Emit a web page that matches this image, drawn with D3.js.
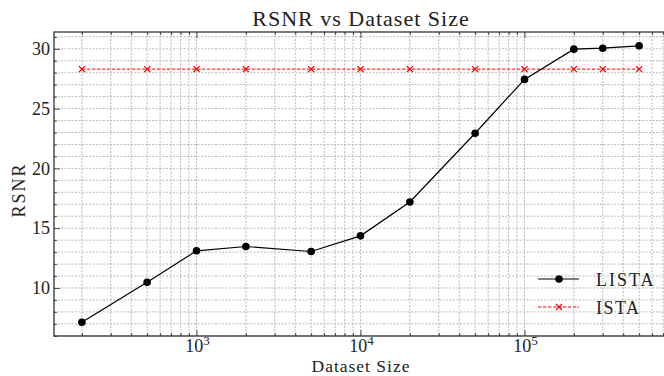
<!DOCTYPE html>
<html>
<head>
<meta charset="utf-8">
<script src="https://cdn.jsdelivr.net/npm/d3@7"></script>
<style>
  body { margin: 0; background: #fff; }
  svg text { font-family: "Liberation Serif", "DejaVu Serif", serif; fill: #222; }
</style>
</head>
<body>
<div id="chart"></div>
<script>
// Data
var sizes = [200, 500, 1000, 2000, 5000, 10000, 20000, 50000, 100000, 200000, 300000, 500000];
var lista = [7.14, 10.47, 13.11, 13.47, 13.05, 14.36, 17.19, 22.94, 27.44, 29.97, 30.05, 30.25];
var ista = [28.3, 28.3, 28.3, 28.3, 28.3, 28.3, 28.3, 28.3, 28.3, 28.3, 28.3, 28.3];
var yTicks = [10, 15, 20, 25, 30];
var xTicks = [1e3, 1e4, 1e5];

var svgWidth = 664;
var svgHeight = 376;

var margin = { top: 32, right: -3, bottom: 40, left: 54 };
var width = svgWidth - margin.left - margin.right;
var height = svgHeight - margin.top - margin.bottom;

var svg = d3.select("#chart")
  .append("svg")
  .attr("width", svgWidth)
  .attr("height", svgHeight);

var chartGroup = svg.append("g")
  .attr("transform", `translate(${margin.left}, ${margin.top})`);

// matplotlib-style 5% margins
var lx = d3.extent(sizes, d => Math.log10(d));
var px = (lx[1] - lx[0]) * 0.05;
var xScale = d3.scaleLog()
  .domain([Math.pow(10, lx[0] - px), Math.pow(10, lx[1] + px)])
  .range([0, width]);

var ly = d3.extent(lista.concat(ista));
var py = (ly[1] - ly[0]) * 0.05;
var yScale = d3.scaleLinear()
  .domain([ly[0] - py, ly[1] + py])
  .range([height, 0]);

// minor ticks
var xMinor = [];
for (var e = 2; e <= 5; e++) {
  for (var m = 1; m <= 9; m++) {
    var v = m * Math.pow(10, e);
    if (v >= xScale.domain()[0] && v <= xScale.domain()[1]) xMinor.push(v);
  }
}
var yMinor = d3.range(Math.ceil(yScale.domain()[0]), Math.floor(yScale.domain()[1]) + 1);

// grid
var grid = chartGroup.append("g");
grid.selectAll(".gx")
  .data(xMinor)
  .enter()
  .append("line")
  .attr("x1", d => xScale(d))
  .attr("x2", d => xScale(d))
  .attr("y1", 0)
  .attr("y2", height)
  .attr("stroke", "#a8a8a8")
  .attr("stroke-width", 0.8)
  .attr("stroke-dasharray", "2,1.5");

grid.selectAll(".gy")
  .data(yMinor)
  .enter()
  .append("line")
  .attr("x1", 0)
  .attr("x2", width)
  .attr("y1", d => yScale(d))
  .attr("y2", d => yScale(d))
  .attr("stroke", "#a8a8a8")
  .attr("stroke-width", 0.8)
  .attr("stroke-dasharray", "2,1.5");

// axes with inward ticks
var bottomAxis = d3.axisBottom(xScale).tickValues(xTicks).tickSize(-6).tickFormat("");
var bottomMinor = d3.axisBottom(xScale).tickValues(xMinor.filter(d => xTicks.indexOf(d) < 0)).tickSize(-3).tickFormat("");
var topAxis = d3.axisTop(xScale).tickValues(xTicks).tickSize(-6).tickFormat("");
var topMinor = d3.axisTop(xScale).tickValues(xMinor.filter(d => xTicks.indexOf(d) < 0)).tickSize(-3).tickFormat("");
var leftAxis = d3.axisLeft(yScale).tickValues(yTicks).tickSize(-6).tickPadding(4);
var leftMinor = d3.axisLeft(yScale).tickValues(yMinor.filter(d => yTicks.indexOf(d) < 0)).tickSize(-3).tickFormat("");

function styleAxis(g) {
  g.select(".domain").remove();
  g.selectAll("line").attr("stroke", "#222").attr("stroke-width", 0.8);
}

chartGroup.append("g").attr("transform", `translate(0, ${height})`).call(bottomAxis).call(styleAxis);
chartGroup.append("g").attr("transform", `translate(0, ${height})`).call(bottomMinor).call(styleAxis);
chartGroup.append("g").call(topAxis).call(styleAxis);
chartGroup.append("g").call(topMinor).call(styleAxis);
chartGroup.append("g").call(leftMinor).call(styleAxis);
var yAxisG = chartGroup.append("g").call(leftAxis).call(styleAxis);
yAxisG.selectAll("text")
  .attr("font-size", "18px")
  .attr("font-family", "Liberation Serif")
  .attr("fill", "#222");

// x tick labels 10^n
var xLabels = chartGroup.selectAll(".xl")
  .data(xTicks)
  .enter()
  .append("text")
  .attr("x", d => xScale(d) + 1)
  .attr("y", height + 16)
  .attr("text-anchor", "middle")
  .attr("font-size", "18px");
xLabels.append("tspan").text("10");
xLabels.append("tspan")
  .attr("dy", "-7")
  .attr("font-size", "13px")
  .text(d => Math.round(Math.log10(d)));

// frame
chartGroup.append("rect")
  .attr("x", 0)
  .attr("y", 0)
  .attr("width", width)
  .attr("height", height)
  .attr("fill", "none")
  .attr("stroke", "#222")
  .attr("stroke-width", 1.2);

// ISTA line
var line = d3.line()
  .x((d, i) => xScale(sizes[i]))
  .y(d => yScale(d));

chartGroup.append("path")
  .datum(ista)
  .attr("d", line)
  .attr("fill", "none")
  .attr("stroke", "#ff0000")
  .attr("stroke-width", 1)
  .attr("stroke-dasharray", "3.5,1.5");

function cross(sel, s) {
  sel.attr("d", `M${-s},${-s}L${s},${s}M${-s},${s}L${s},${-s}`)
    .attr("stroke", "#ff0000")
    .attr("stroke-width", 1.3)
    .attr("fill", "none");
}

chartGroup.selectAll(".ix")
  .data(ista)
  .enter()
  .append("path")
  .attr("transform", (d, i) => `translate(${xScale(sizes[i])}, ${yScale(d)})`)
  .call(cross, 3);

// LISTA line
chartGroup.append("path")
  .datum(lista)
  .attr("d", line)
  .attr("fill", "none")
  .attr("stroke", "#000")
  .attr("stroke-width", 1.2);

chartGroup.selectAll(".lc")
  .data(lista)
  .enter()
  .append("circle")
  .attr("cx", (d, i) => xScale(sizes[i]))
  .attr("cy", d => yScale(d))
  .attr("r", 3.8)
  .attr("fill", "#000");

// title and axis labels
svg.append("text")
  .attr("x", 361)
  .attr("y", 26)
  .attr("text-anchor", "middle")
  .attr("font-size", "22px")
  .attr("letter-spacing", "1px")
  .text("RSNR vs Dataset Size");

svg.append("text")
  .attr("x", 361)
  .attr("y", 372)
  .attr("text-anchor", "middle")
  .attr("font-size", "17.5px")
  .attr("letter-spacing", "1px")
  .text("Dataset Size");

svg.append("text")
  .attr("transform", "rotate(-90)")
  .attr("x", -190)
  .attr("y", 25)
  .attr("text-anchor", "middle")
  .attr("font-size", "18px")
  .attr("letter-spacing", "2px")
  .text("RSNR");

// legend
var legend = svg.append("g").attr("transform", "translate(538, 279)");
legend.append("line")
  .attr("x1", 0).attr("x2", 41).attr("y1", 0).attr("y2", 0)
  .attr("stroke", "#000").attr("stroke-width", 1.2);
legend.append("circle")
  .attr("cx", 21).attr("cy", 0).attr("r", 3.8).attr("fill", "#000");
legend.append("text")
  .attr("x", 58).attr("y", 7)
  .attr("font-size", "18px")
  .attr("letter-spacing", "2px")
  .text("LISTA");

legend.append("line")
  .attr("x1", 0).attr("x2", 41).attr("y1", 28).attr("y2", 28)
  .attr("stroke", "#ff0000").attr("stroke-width", 1)
  .attr("stroke-dasharray", "3.5,1.5");
legend.append("path")
  .attr("transform", "translate(21, 28)")
  .call(cross, 3);
legend.append("text")
  .attr("x", 58).attr("y", 35)
  .attr("font-size", "18px")
  .attr("letter-spacing", "1.5px")
  .text("ISTA");
</script>
</body>
</html>
